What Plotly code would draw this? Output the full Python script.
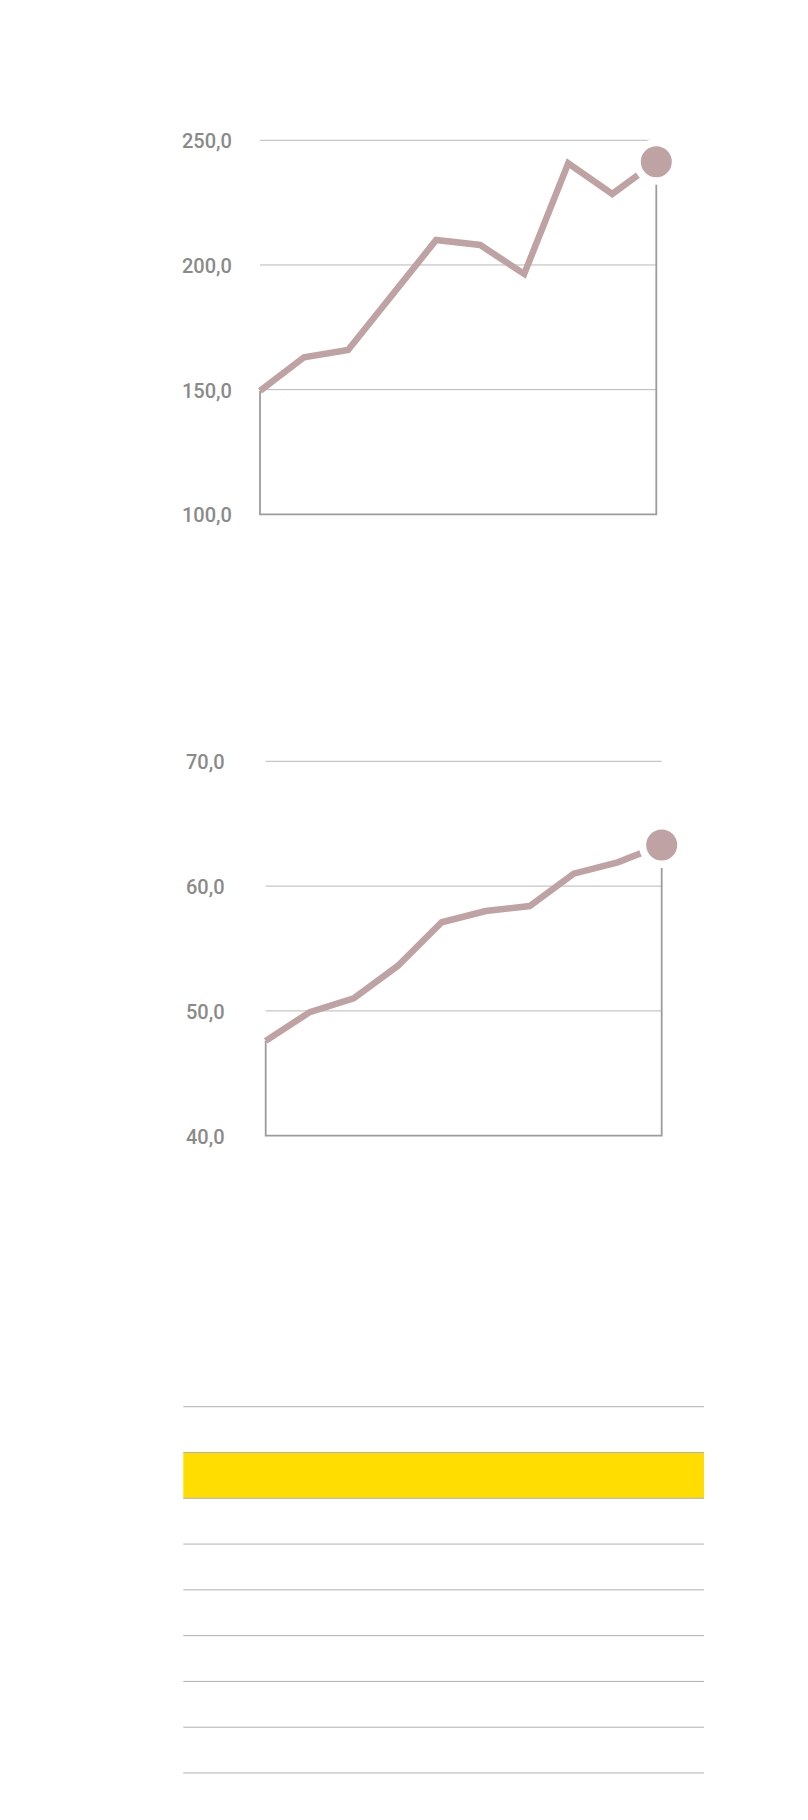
import plotly.graph_objects as go

# ---------------- data ----------------
periods = list(range(10))

values_a = [149.5, 163.0, 165.9, 187.7, 210.0, 208.0, 196.4, 240.8, 228.5, 241.4]
ticks_a = [100, 150, 200, 250]
ticklabels_a = ["100,0", "150,0", "200,0", "250,0"]

values_b = [47.6, 49.9, 51.0, 53.6, 57.1, 58.0, 58.4, 61.0, 61.9, 63.3]
ticks_b = [40, 50, 60, 70]
ticklabels_b = ["40,0", "50,0", "60,0", "70,0"]

table_rows = 8
highlight_row = 1

# ---------------- style ----------------
W, H = 808, 1820
LINE_COLOR = "#bfa2a4"
GRID_COLOR = "#b8b8b8"
OUTLINE_COLOR = "#9c9c9c"
TEXT_COLOR = "#8a8a8a"
YELLOW = "#ffdd00"
FONT = "Roboto"


def dom_x(pa, pb, va, vb, lo, hi):
    k = (pb - pa) / (vb - va)
    return [(pa + (lo - va) * k) / W, (pa + (hi - va) * k) / W]


def dom_y(pa, pb, va, vb, bottom_v, top_v):
    k = (pb - pa) / (vb - va)
    p_bot = pa + (bottom_v - va) * k
    p_top = pa + (top_v - va) * k
    return [1 - p_bot / H, 1 - p_top / H]


fig = go.Figure()


def add_chart(xa, ya, xs, vals, ticks):
    ymin = ticks[0]
    # gridlines
    gx, gy = [], []
    for t in ticks[1:]:
        gx += [xs[0], xs[-1], None]
        gy += [t, t, None]
    fig.add_trace(go.Scatter(x=gx, y=gy, mode="lines", xaxis=xa, yaxis=ya,
                             line=dict(color=GRID_COLOR, width=1),
                             hoverinfo="skip", showlegend=False))
    # outline (left edge, bottom, right edge)
    fig.add_trace(go.Scatter(x=[xs[-1], xs[-1], xs[0], xs[0]],
                             y=[vals[-1], ymin, ymin, vals[0]],
                             mode="lines", xaxis=xa, yaxis=ya,
                             line=dict(color=OUTLINE_COLOR, width=1.8),
                             hoverinfo="skip", showlegend=False))
    # data line
    fig.add_trace(go.Scatter(x=xs, y=vals, mode="lines", xaxis=xa, yaxis=ya,
                             line=dict(color=LINE_COLOR, width=6.5),
                             showlegend=False, cliponaxis=False))
    # white halo + end dot
    fig.add_trace(go.Scatter(x=[xs[-1]], y=[vals[-1]], mode="markers",
                             xaxis=xa, yaxis=ya, cliponaxis=False,
                             marker=dict(size=46, color="white", line=dict(width=0)),
                             hoverinfo="skip", showlegend=False))
    fig.add_trace(go.Scatter(x=[xs[-1]], y=[vals[-1]], mode="markers",
                             xaxis=xa, yaxis=ya, cliponaxis=False,
                             marker=dict(size=31, color=LINE_COLOR, line=dict(width=0)),
                             showlegend=False))


add_chart("x", "y", periods, values_a, ticks_a)
add_chart("x2", "y2", periods, values_b, ticks_b)

# table-like block
fig.add_trace(go.Bar(y=[highlight_row + 0.5], x=[1], base=0, width=1,
                     orientation="h", xaxis="x3", yaxis="y3",
                     marker=dict(color=YELLOW, line=dict(width=0)),
                     hoverinfo="skip", showlegend=False))
tx, ty = [], []
for r in range(table_rows + 1):
    tx += [0, 1, None]
    ty += [r, r, None]
fig.add_trace(go.Scatter(x=tx, y=ty, mode="lines", xaxis="x3", yaxis="y3",
                         line=dict(color="#b0b0b0", width=1),
                         hoverinfo="skip", showlegend=False))

# axes
xr = [-0.6, 9.6]
yr_a = [90, 260]
yr_b = [38, 72]
hidden = dict(visible=False, showgrid=False, zeroline=False, fixedrange=True)

fig.update_layout(
    width=W, height=H,
    margin=dict(l=0, r=0, t=0, b=0),
    paper_bgcolor="white", plot_bgcolor="rgba(0,0,0,0)",
    showlegend=False,
    xaxis=dict(hidden, range=xr, domain=dom_x(260, 656.3, 0, 9, *xr)),
    yaxis=dict(hidden, range=yr_a, domain=dom_y(514.3, 140.3, 100, 250, *yr_a)),
    xaxis2=dict(hidden, range=xr, domain=dom_x(265.7, 661.7, 0, 9, *xr)),
    yaxis2=dict(hidden, range=yr_b, domain=dom_y(1135.7, 761.3, 40, 70, *yr_b)),
    xaxis3=dict(hidden, range=[-0.03, 1.03], domain=dom_x(183.3, 704, 0, 1, -0.03, 1.03)),
    yaxis3=dict(hidden, range=[table_rows + 0.5, -0.5],
                domain=dom_y(1406.7, 1773, 0, table_rows, table_rows + 0.5, -0.5)),
)

label_font = dict(family=FONT, size=20, color=TEXT_COLOR, weight=500)
annotations = []
for t, lab in zip(ticks_a, ticklabels_a):
    annotations.append(dict(x=179.5 / W, xref="paper", y=t, yref="y", text=lab,
                            showarrow=False, xanchor="left", yanchor="middle",
                            yshift=-1, font=label_font))
for t, lab in zip(ticks_b, ticklabels_b):
    annotations.append(dict(x=184 / W, xref="paper", y=t, yref="y2", text=lab,
                            showarrow=False, xanchor="left", yanchor="middle",
                            yshift=-1, font=label_font))
fig.update_layout(annotations=annotations)

fig.write_html("out.html", post_script="document.body.style.margin='0';",
               config={"displayModeBar": False})
